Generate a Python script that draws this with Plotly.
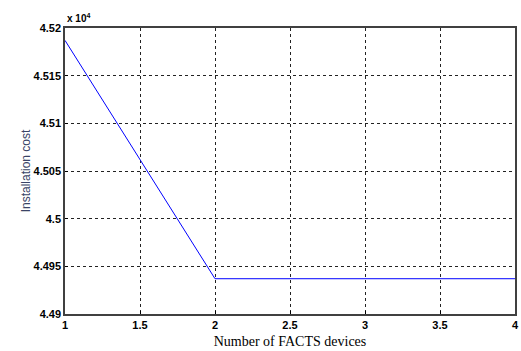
import plotly.graph_objects as go

devices = [1, 2, 3, 4]
cost = [45187, 44937, 44937, 44937]
x_ticks = [1, 1.5, 2, 2.5, 3, 3.5, 4]
x_ticktext = ["1", "1.5", "2", "2.5", "3", "3.5", "4"]
y_ticks = [44900, 44950, 45000, 45050, 45100, 45150, 45200]
y_ticktext = ["4.49", "4.495", "4.5", "4.505", "4.51", "4.515", "4.52"]

fig = go.Figure()
fig.add_trace(go.Scatter(x=devices, y=cost, mode="lines",
                         line=dict(color="#0000ff", width=1), showlegend=False))

tickfont = dict(family="Arial, Liberation Sans, sans-serif", size=11, color="black")
fig.update_xaxes(range=[1, 4], tickvals=x_ticks, ticktext=["<b>%s</b>" % t for t in x_ticktext],
                 showgrid=True, gridcolor="#222222", griddash="3px,3px", gridwidth=1,
                 showline=True, linecolor="#404040", linewidth=1.5, mirror=True,
                 ticks="inside", ticklen=3, tickcolor="black", tickfont=tickfont,
                 zeroline=False,
                 title=dict(text="Number of FACTS devices", standoff=6,
                            font=dict(family="Liberation Serif, Times New Roman, serif", size=14, color="black")))
fig.update_yaxes(range=[44900, 45200], tickvals=y_ticks, ticktext=["<b>%s</b>" % t for t in y_ticktext],
                 showgrid=True, gridcolor="#222222", griddash="3px,3px", gridwidth=1,
                 showline=True, linecolor="#404040", linewidth=1.5, mirror=True,
                 ticks="inside", ticklen=3, tickcolor="black", tickfont=tickfont,
                 zeroline=False,
                 title=dict(text="Installation cost", standoff=0,
                            font=dict(family="Arial, Liberation Sans, sans-serif", size=12, color="#3a4466")))
fig.add_annotation(xref="paper", yref="paper", x=0, y=1, xanchor="left", yanchor="bottom",
                   yshift=2, showarrow=False,
                   text="<b>x 10<sup>4</sup></b>",
                   font=dict(family="Arial, Liberation Sans, sans-serif", size=10, color="black"))
fig.update_layout(width=521, height=351, margin=dict(l=65, r=2, t=28, b=37),
                  plot_bgcolor="white", paper_bgcolor="white")
fig.write_html("out.html")
